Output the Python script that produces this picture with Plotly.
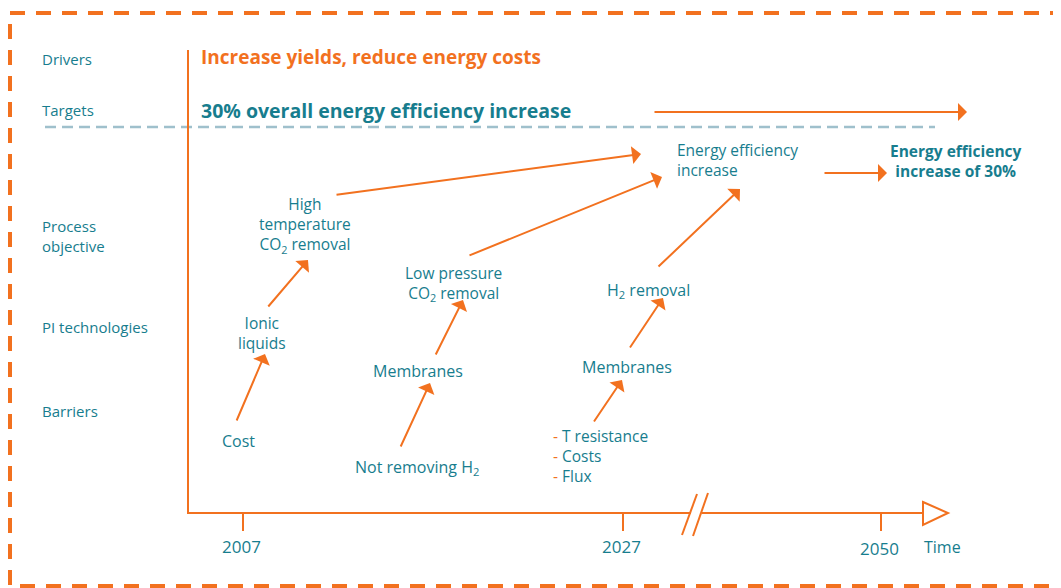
import plotly.graph_objects as go

# ---- data ----
rows = ["Drivers", "Targets", "Process<br>objective", "PI technologies", "Barriers"]
years = ["2007", "2027", "2050"]
time_label = "Time"
driver_text = "Increase yields, reduce energy costs"
target_text = "30% overall energy efficiency increase"
DASH = "<span style='color:#f2711f'>-</span> "
nodes = [
    "High<br>temperature<br>CO<sub>2</sub> removal",
    "Ionic<br>liquids",
    "Cost",
    "Low pressure<br>CO<sub>2</sub> removal",
    "Membranes",
    "Not removing H<sub>2</sub>",
    "Energy efficiency<br>increase",
    "<b>Energy efficiency<br>increase of 30%</b>",
    "H<sub>2</sub> removal",
    "Membranes",
    DASH + "T resistance<br>" + DASH + "Costs<br>" + DASH + "Flux",
]

# ---- layout (screen pixel positions; axes mapped to page pixels) ----
ORANGE = "#f2711f"
TEAL = "#177d8e"
GREY = "#9fc0cc"
FONT = "Open Sans"

row_y = [59, 110, 236, 327, 411]
year_x = [243, 623, 881]
year_y = [546, 546, 548]
node_pos = [  # x, centre y, align, size
    (305, 225, "center", 15.5), (262, 333, "center", 15.5), (238, 441, "center", 16),
    (453, 283, "center", 15.5), (418, 371, "center", 16), (417, 467, "center", 16),
    (675, 160, "left", 15.5), (956, 161, "center", 15.5), (648, 290, "center", 16),
    (627, 367, "center", 16), (551, 456, "left", 15.5),
]
arrows = [  # (tail x, tail y, tip x, tip y)
    (236, 422, 265, 354), (267, 308, 308, 260), (335, 195, 641, 154),
    (400, 448, 430, 383), (435, 356, 463, 300), (468, 256, 662, 177),
    (593, 423, 622, 380), (629, 349, 663, 298), (657, 268, 740, 189),
    (823, 173, 887, 173), (653, 112, 967, 112),
]

fig = go.Figure()
fig.add_trace(go.Scatter(x=[10, 1060], y=[10, 580], mode="markers",
                         marker=dict(opacity=0), hoverinfo="skip", showlegend=False))

shapes = []
shapes.append(dict(type="rect", x0=10, y0=13, x1=1075, y1=586,
                   line=dict(color=ORANGE, width=4, dash="15px,11px")))
shapes.append(dict(type="line", x0=45, y0=127, x1=935, y1=127,
                   line=dict(color=GREY, width=2.5, dash="11px,6px")))
shapes.append(dict(type="line", x0=188, y0=50, x1=188, y1=513,
                   line=dict(color=ORANGE, width=2)))
shapes.append(dict(type="line", x0=187, y0=513, x1=691, y1=513,
                   line=dict(color=ORANGE, width=2)))
shapes.append(dict(type="line", x0=702, y0=513, x1=923, y1=513,
                   line=dict(color=ORANGE, width=2)))
shapes.append(dict(type="line", x0=682, y0=535, x1=697, y1=494,
                   line=dict(color=ORANGE, width=2)))
shapes.append(dict(type="line", x0=693, y0=536, x1=708, y1=493,
                   line=dict(color=ORANGE, width=2)))
shapes.append(dict(type="path", path="M 923 502 L 948 513 L 923 525 Z",
                   fillcolor="white", line=dict(color=ORANGE, width=2)))
for x in year_x:
    shapes.append(dict(type="line", x0=x, y0=513, x1=x, y1=531,
                       line=dict(color=ORANGE, width=2)))

ann = []
for label, y in zip(rows, row_y):
    ann.append(dict(x=40, y=y, text=label, xanchor="left", yanchor="middle",
                    align="left", showarrow=False,
                    font=dict(family=FONT, size=15, color=TEAL)))
for label, x, y in zip(years, year_x, year_y):
    ann.append(dict(x=x - 2, y=y, text=label, xanchor="center", yanchor="middle",
                    showarrow=False, font=dict(family=FONT, size=17, color=TEAL)))
ann.append(dict(x=922, y=547, text=time_label, xanchor="left", yanchor="middle",
                showarrow=False, font=dict(family=FONT, size=16, color=TEAL)))
ann.append(dict(x=199, y=57, text="<b>" + driver_text + "</b>", xanchor="left",
                yanchor="middle", showarrow=False,
                font=dict(family=FONT, size=19, color=ORANGE)))
ann.append(dict(x=199, y=110, text="<b>" + target_text + "</b>", xanchor="left",
                yanchor="middle", showarrow=False,
                font=dict(family=FONT, size=19.5, color=TEAL)))
for text, (x, y, al, sz) in zip(nodes, node_pos):
    ann.append(dict(x=x, y=y, text=text,
                    xanchor="left" if al == "left" else "center",
                    yanchor="middle", align=al, showarrow=False,
                    font=dict(family=FONT, size=sz, color=TEAL)))
for (tx, ty, hx, hy) in arrows:
    ann.append(dict(x=hx, y=hy, ax=tx, ay=ty, xref="x", yref="y", axref="x", ayref="y",
                    text="", showarrow=True, arrowhead=1, arrowsize=1.5,
                    arrowwidth=2, arrowcolor=ORANGE, standoff=0, startstandoff=0))

# the page body has an 8px margin, so map axis values directly to page pixels
fig.update_layout(
    width=1061, height=588, margin=dict(l=0, r=0, t=0, b=0),
    paper_bgcolor="white", plot_bgcolor="white",
    xaxis=dict(range=[8, 1069], visible=False, fixedrange=True),
    yaxis=dict(range=[596, 8], visible=False, fixedrange=True),
    shapes=shapes, annotations=ann, showlegend=False,
)
fig.write_html("out.html")
